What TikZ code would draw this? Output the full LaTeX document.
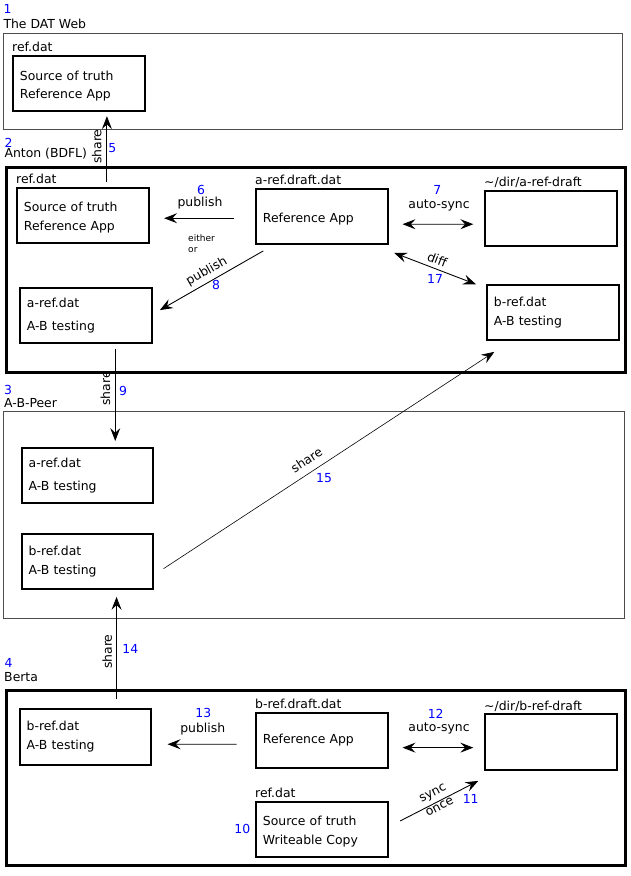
\documentclass[tikz,border=0pt]{standalone}
\usepackage{fontspec}
\setmainfont{DejaVu Sans}
\usetikzlibrary{positioning,arrows.meta,calc}

\begin{document}
\begin{tikzpicture}[
    x=0.03cm, y=-0.03cm,
    font=\fontsize{10.6pt}{16pt}\selectfont,
    >={Stealth[length=11pt,width=8.5pt,inset=4pt]},
    section/.style={draw=black!70, line width=0.8pt, anchor=north west, inner sep=0pt},
    person/.style={draw, line width=2.5pt, anchor=north west, inner sep=0pt},
    file/.style={draw, line width=1.6pt, anchor=north west, minimum width=3.95cm, minimum height=1.66cm, text width=3.53cm, inner xsep=0.21cm, inner ysep=0pt, align=left},
    lowfile/.style={file, execute at begin node={\rule{0pt}{12.3pt}}},
    tag/.style={inner sep=0pt, text depth=0pt, above right=2.4pt and 0pt of #1},
    num/.style={text=blue, inner sep=0pt},
    lbl/.style={inner sep=0pt},
    arrow/.style={->, line width=0.75pt},
    twoway/.style={<->, line width=0.75pt}
]
\useasboundingbox (0,0) rectangle (630,876);

\node[section, minimum width=18.57cm, minimum height=2.86cm] (webSec) at (3,33.3) {};
\node[person, minimum width=18.57cm, minimum height=6.15cm] (antonSec) at (5,165.7) {};
\node[section, minimum width=18.62cm, minimum height=6.21cm] (peerSec) at (3.3,411.3) {};
\node[person, minimum width=18.58cm, minimum height=5.26cm] (bertaSec) at (4.7,689) {};

\node[num, anchor=west] (webNum) at (3.5,8.5) {1};
\node[lbl, anchor=west] (webTitle) at (3.3,24.3) {The DAT Web};
\node[num, anchor=west] (antonNum) at (4.5,142.7) {2};
\node[lbl, anchor=west] (antonTitle) at (4.3,154) {Anton (BDFL)};
\node[num, anchor=west] (peerNum) at (4,390) {3};
\node[lbl, anchor=west] (peerTitle) at (4,402.7) {A-B-Peer};
\node[num, anchor=west] (bertaNum) at (4.5,662.7) {4};
\node[lbl, anchor=west] (bertaTitle) at (4,677.3) {Berta};

\node[lowfile] (wref) at (12,55) {Source of truth\\Reference App};
\node[tag=wref.north west] (wrefTag) {ref.dat};

\node[lowfile] (aref) at (16,186.7) {Source of truth\\Reference App};
\node[tag=aref.north west] (arefTag) {ref.dat};
\node[lowfile] (adraft) at (255,187.7) {Reference App};
\node[tag=adraft.north west] (adraftTag) {a-ref.draft.dat};
\node[file] (adir) at (484,190) {};
\node[tag=adir.north west] (adirTag) {\textasciitilde/dir/a-ref-draft};
\node[file] (aab) at (19,287) {a-ref.dat\\[3pt]A-B testing};
\node[file] (bab) at (486,284) {b-ref.dat\\A-B testing};

\node[file] (pab) at (20.7,446.7) {a-ref.dat\\[4pt]A-B testing};
\node[file] (pbb) at (20.7,532.7) {b-ref.dat\\A-B testing};

\node[file] (bbb) at (18.7,708.3) {b-ref.dat\\A-B testing};
\node[file] (bdraft) at (255,711.7) {Reference App};
\node[tag=bdraft.north west] (bdraftTag) {b-ref.draft.dat};
\node[file] (bdir) at (484,713.3) {};
\node[tag=bdir.north west] (bdirTag) {\textasciitilde/dir/b-ref-draft};
\node[lowfile] (bsrc) at (255,800.7) {Source of truth\\Writeable Copy};
\node[tag=bsrc.north west] (bsrcTag) {ref.dat};

\draw[arrow] ($(aref.north)+(24.15,-4.4)$) -- ($(wref.south)+(28.15,4)$);
\node[lbl, rotate=90] (share5) at (96.7,146.7) {share};
\node[num] (n5) at (112.3,147.7) {5};

\draw[arrow] ($(adraft.west)+(-21,1.93)$) -- ($(aref.east)+(14.6,2.93)$);
\node[num] (n6) at (201,190) {6};
\node[lbl] (pub6) at (200,203.3) {publish};
\node[lbl, anchor=west, align=left, font=\fontsize{7.7pt}{9.6pt}\selectfont] (eitherOr) at (188,243.7) {either\\or};

\draw[twoway] ($(adraft.east)+(14,7.9)$) -- ($(adir.west)+(-10.7,5.6)$);
\node[num] (n7) at (437.3,190) {7};
\node[lbl] (sync7) at (439,205.7) {auto-sync};

\draw[arrow] ($(adraft.south west)+(8.3,6)$) -- ($(aab.east)+(7.3,-5.5)$);
\node[lbl, rotate=29.5] (pub8) at (206.7,271.7) {publish};
\node[num] (n8) at (216,285) {8};

\draw[twoway] ($(adraft.south east)+(5.6,8)$) -- ($(bab.north west)+(-10,0.3)$);
\node[lbl, rotate=-21] (diff17) at (437.3,259.3) {diff};
\node[num] (n17) at (435,278.7) {17};

\draw[arrow] ($(aab.south)+(29.47,4.97)$) -- ($(pab.north)+(27.77,-5.7)$);
\node[lbl, rotate=90] (share9) at (105.5,388.5) {share};
\node[num] (n9) at (123,391) {9};

\draw[arrow, line width=0.5pt] ($(pbb.east)+(9.33,7.33)$) -- ($(bab.south west)+(8.3,10.67)$);
\node[lbl, rotate=33.2] (share15) at (306.5,460) {share};
\node[num] (n15) at (324,478) {15};

\draw[arrow] ($(bbb.north)+(31.07,-9.3)$) -- ($(pbb.south)+(29.07,6.97)$);
\node[lbl, rotate=90] (share14) at (107.3,651.7) {share};
\node[num] (n14) at (130.3,649.3) {14};

\draw[arrow] ($(bdraft.west)+(-18.3,3.93)$) -- ($(bbb.east)+(15.33,7.33)$);
\node[num] (n13) at (203.3,712.7) {13};
\node[lbl] (pub13) at (202.7,729.3) {publish};

\draw[twoway] ($(bdraft.east)+(14.03,7.33)$) -- ($(bdir.west)+(-10.7,5.73)$);
\node[num] (n12) at (435.7,714) {12};
\node[lbl] (sync12) at (439,728.7) {auto-sync};

\draw[arrow] ($(bsrc.east)+(11.63,-8.37)$) -- ($(bdir.south west)+(-5.7,10.37)$);
\node[lbl, rotate=27, align=center, font=\fontsize{10.6pt}{13pt}\selectfont] (sync11) at (436.2,800) {sync\\once};
\node[num] (n11) at (470.7,799.3) {11};
\node[num] (n10) at (242.3,828.7) {10};

\end{tikzpicture}
\end{document}
